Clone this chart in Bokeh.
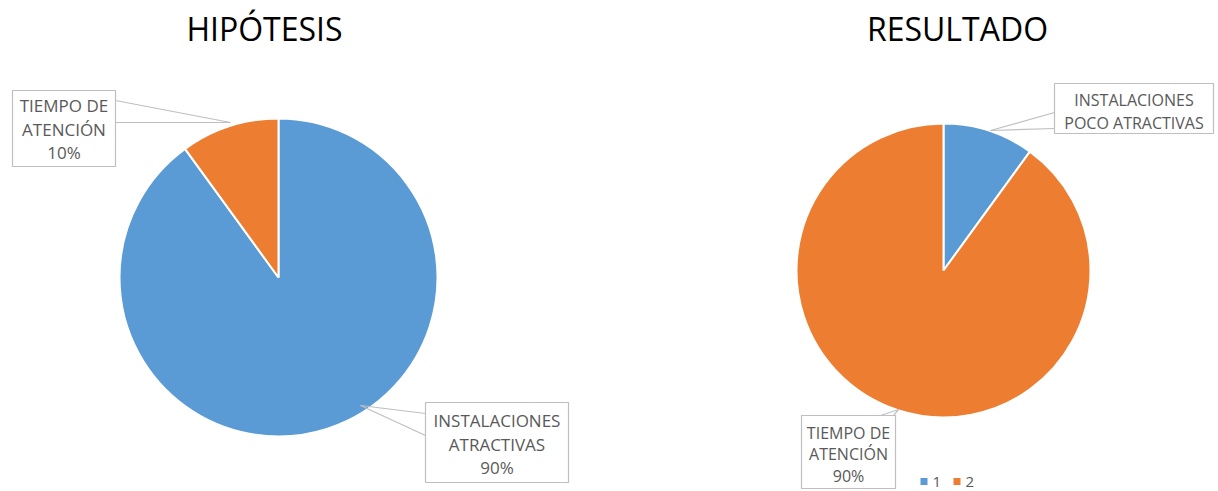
from bokeh.plotting import figure
from bokeh.models import Range1d, ColumnDataSource
from bokeh.core.properties import value
from bokeh.embed import file_html
from bokeh.resources import INLINE

# ---- data ----
series = ["1", "2"]
colors = ["#5B9BD5", "#ED7D31"]
hipotesis_values = [90, 10]
resultado_values = [10, 90]
titles = ["HIPÓTESIS", "RESULTADO"]
hip_labels = [["INSTALACIONES", "ATRACTIVAS", "90%"], ["TIEMPO DE", "ATENCIÓN", "10%"]]
res_labels = [["INSTALACIONES", "POCO ATRACTIVAS"], ["TIEMPO DE", "ATENCIÓN", "90%"]]

W, H = 1218, 491
def Y(y):
    return H - y

p = figure(width=W, height=H, output_backend="svg", toolbar_location=None,
           x_range=Range1d(0, W), y_range=Range1d(0, H), min_border=0)
p.axis.visible = False
p.grid.visible = False
p.outline_line_color = None
p.background_fill_color = "white"
p.border_fill_color = "white"

FONT = value("Open Sans")
GRAY = "#595959"
BOX = "#BFBFBF"

def pie(cx, cy, r, vals):
    total = float(sum(vals))
    starts, ends = [], []
    cum = 0.0
    for v in vals:
        starts.append(90 - cum / total * 360)
        cum += v
        ends.append(90 - cum / total * 360)
    src = ColumnDataSource(dict(s=starts, e=ends, c=colors))
    p.wedge(x=cx, y=Y(cy), radius=r, start_angle="s", end_angle="e",
            start_angle_units="deg", end_angle_units="deg", direction="clock",
            fill_color="c", line_color="white", line_width=2, source=src)

pie(278, 277, 159, hipotesis_values)
pie(943, 270, 147, resultado_values)

# titles
p.text(x=[264, 957], y=[Y(28), Y(28)], text=titles, text_font=FONT,
       text_font_size="32px", text_color="#000000", text_align="center",
       text_baseline="middle")

def callout(box, tip, b1, b2, lines, ys, fs):
    x0, y0, x1, y1 = box
    p.multi_line(xs=[[tip[0], b1[0]], [tip[0], b2[0]]],
                 ys=[[Y(tip[1]), Y(b1[1])], [Y(tip[1]), Y(b2[1])]],
                 line_color=BOX, line_width=1.2)
    p.quad(left=x0, right=x1, top=Y(y0), bottom=Y(y1), fill_color="white",
           line_color=BOX, line_width=1.2)
    cx = (x0 + x1) / 2
    p.text(x=[cx] * len(lines), y=[Y(v) for v in ys], text=lines, text_font=FONT,
           text_font_size=fs, text_color=GRAY, text_align="center",
           text_baseline="middle")

callout((12, 90, 115, 166), (230, 122), (115, 100), (115, 122),
        hip_labels[1], [105, 129, 152], "17px")
callout((425, 402, 568, 482), (360, 405), (425, 413), (425, 435),
        hip_labels[0], [420, 444, 467], "17px")
callout((1054, 83, 1213, 133), (990, 130), (1054, 112), (1054, 128),
        res_labels[0], [99, 122], "16px")
callout((801, 415, 895, 488), (898, 409), (880, 415), (893, 415),
        res_labels[1], [432, 453, 475], "16px")

# legend
p.rect(x=[923.5, 956.5], y=[Y(481), Y(481)], width=7, height=7, fill_color=colors,
       line_color=None)
p.text(x=[932, 965], y=[Y(481), Y(481)], text=series, text_font=FONT,
       text_font_size="15px", text_color=GRAY, text_align="left",
       text_baseline="middle")

open("out.html", "w").write(file_html(p, INLINE))
